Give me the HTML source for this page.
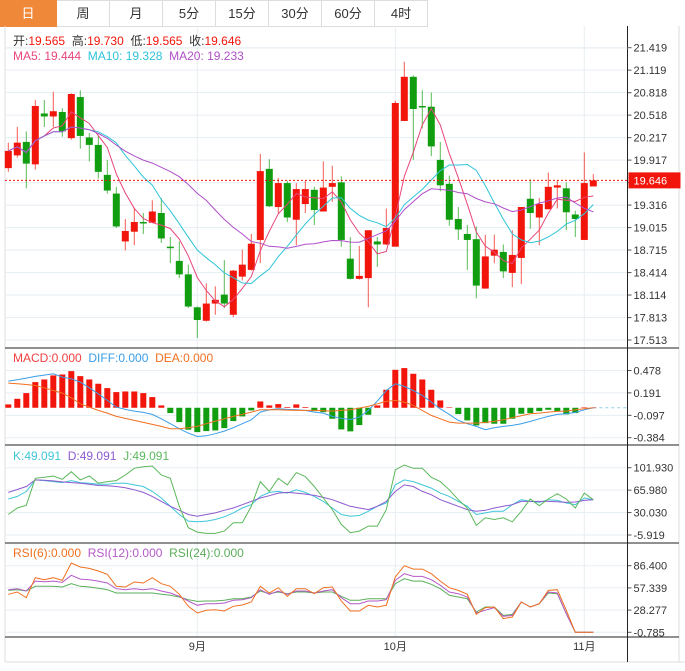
<!DOCTYPE html>
<html><head><meta charset="utf-8"><style>
body{margin:0;background:#fff;width:685px;height:671px;overflow:hidden;font-family:"Liberation Sans","Noto Sans CJK SC",sans-serif}
#tabs{position:absolute;left:0;top:0;height:26px;display:flex}
.tab{width:52px;height:25px;border:1px solid #ddd;border-left:none;font-size:13px;line-height:25px;text-align:center;color:#333;box-sizing:content-box}
.tab.on{background:#f0883a;color:#fff;border-color:#f0883a;width:56px}
svg{position:absolute;left:0;top:0}
</style></head><body>
<div id="tabs">
<div class="tab on">日</div>
<div class="tab">周</div>
<div class="tab">月</div>
<div class="tab">5分</div>
<div class="tab">15分</div>
<div class="tab">30分</div>
<div class="tab">60分</div>
<div class="tab">4时</div>
</div>
<svg id="c" width="685" height="671"></svg>
<script>
const opens=[19.81,19.98,20.16,19.86,20.54,20.50,20.56,20.21,20.76,20.22,20.12,19.72,19.47,18.83,18.96,19.09,19.08,19.21,18.76,18.57,18.39,17.95,17.77,18.00,18.12,17.85,18.36,18.45,18.85,19.80,19.29,19.61,19.12,19.33,19.52,19.23,19.56,19.62,18.60,18.33,18.34,18.83,18.79,18.76,20.44,21.03,20.64,20.63,19.92,19.60,19.13,18.93,18.86,18.20,18.64,18.69,18.41,18.61,19.40,19.15,19.26,19.55,19.54,19.19,18.85,19.565];
const highs=[20.15,20.36,20.30,20.72,20.72,20.83,20.61,20.81,20.85,20.28,20.24,19.92,19.56,19.13,19.28,19.21,19.38,19.41,18.89,18.83,18.52,17.96,18.27,18.23,18.58,18.45,18.72,18.93,20.00,19.93,19.68,19.64,19.61,19.64,19.56,19.90,19.84,19.70,18.89,18.77,18.98,18.89,19.27,20.71,21.23,21.05,20.85,20.82,20.16,19.71,19.29,19.05,19.03,18.92,18.92,18.79,18.98,19.29,19.66,19.41,19.75,19.65,19.62,19.24,20.02,19.73];
const lows=[19.76,19.95,19.54,19.79,20.36,20.36,20.23,20.19,20.07,19.90,19.67,19.47,19.01,18.71,18.78,18.93,19.08,18.81,18.54,18.34,17.94,17.54,17.76,17.85,17.94,17.82,18.31,18.44,18.54,19.29,19.21,19.09,18.78,19.21,19.05,19.23,19.36,18.76,18.32,18.32,17.95,18.49,18.78,18.76,20.44,19.92,20.34,19.97,19.50,19.04,18.85,18.45,18.07,18.20,18.54,18.34,18.22,18.26,19.00,18.78,19.26,19.27,18.98,18.89,18.85,19.565];
const closes=[20.04,20.15,19.87,20.64,20.50,20.57,20.30,20.80,20.24,20.12,19.76,19.51,19.03,18.97,19.09,19.08,19.23,18.87,18.74,18.39,17.96,17.78,18.00,18.05,18.00,18.44,18.52,18.80,19.77,19.30,19.61,19.15,19.53,19.53,19.25,19.55,19.61,18.85,18.33,18.37,18.98,18.79,19.01,20.68,21.03,20.60,20.62,20.10,19.58,19.12,18.99,18.85,18.24,18.63,18.72,18.43,18.65,19.29,19.21,19.33,19.56,19.58,19.22,19.13,19.61,19.646];
const macdHist=[0.043,0.115,0.188,0.329,0.363,0.415,0.427,0.470,0.406,0.363,0.308,0.252,0.201,0.209,0.209,0.188,0.137,0.030,-0.068,-0.184,-0.282,-0.312,-0.299,-0.291,-0.261,-0.171,-0.111,-0.034,0.081,0.030,0.047,0.009,0.043,0.009,-0.043,-0.056,-0.141,-0.278,-0.303,-0.222,-0.090,0.030,0.231,0.487,0.509,0.436,0.363,0.231,0.094,0.004,-0.081,-0.162,-0.226,-0.197,-0.205,-0.205,-0.141,-0.077,-0.068,-0.043,-0.026,-0.047,-0.085,-0.068,0.004,0.002];
const diffVals=[0.342,0.359,0.380,0.402,0.419,0.436,0.393,0.372,0.329,0.256,0.179,0.094,0.009,-0.021,-0.043,-0.060,-0.085,-0.141,-0.205,-0.269,-0.325,-0.368,-0.359,-0.333,-0.299,-0.256,-0.205,-0.154,-0.056,-0.026,-0.013,-0.021,-0.026,-0.034,-0.056,-0.068,-0.111,-0.137,-0.150,-0.120,-0.034,0.085,0.222,0.308,0.274,0.222,0.158,0.073,-0.013,-0.085,-0.162,-0.205,-0.239,-0.282,-0.256,-0.239,-0.226,-0.205,-0.175,-0.141,-0.111,-0.085,-0.077,-0.060,-0.026,0];
const deaVals=[0.316,0.308,0.299,0.286,0.256,0.222,0.188,0.128,0.051,0.009,-0.034,-0.068,-0.111,-0.137,-0.162,-0.188,-0.214,-0.239,-0.269,-0.269,-0.256,-0.239,-0.205,-0.171,-0.141,-0.111,-0.085,-0.056,-0.026,-0.026,-0.026,-0.030,-0.034,-0.034,-0.034,-0.038,-0.043,-0.034,-0.026,-0.004,0.017,0.051,0.081,0.094,0.073,0.030,-0.034,-0.098,-0.141,-0.184,-0.197,-0.197,-0.197,-0.188,-0.175,-0.154,-0.128,-0.103,-0.077,-0.068,-0.056,-0.047,-0.043,-0.026,-0.013,0];
const kVals=[51.7,55.9,63.9,82.4,81.3,79.7,78.1,81.3,78.1,77.1,75.5,75.5,77.1,77.1,74.4,71.8,63.9,53.3,40.1,26.9,16.3,15.2,16.3,18.9,23.2,29.5,37.4,42.7,55.9,62.3,63.9,61.2,66.5,62.3,55.9,48.0,37.4,26.9,24.2,25.3,32.1,40.1,45.4,74.4,82.4,79.7,74.4,69.2,61.2,55.9,48.0,40.1,26.9,29.5,32.1,32.1,42.7,50.6,48.0,46.4,50.6,49.6,45.4,42.7,53.3,50.6];
const dVals=[62.3,67.0,71.8,82.4,81.8,80.8,79.2,78.1,77.1,75.5,73.4,72.9,71.8,69.7,66.5,62.3,55.9,48.0,40.1,33.7,26.9,24.2,26.9,29.5,33.7,37.4,42.7,48.0,53.3,57.0,61.2,62.3,61.2,59.6,57.5,54.3,50.6,45.4,40.1,37.4,34.8,40.1,48.0,63.9,74.4,71.8,63.9,58.6,50.6,45.4,40.1,34.8,32.1,33.7,37.4,40.1,42.7,48.0,48.0,48.0,48.0,47.5,46.4,47.0,49.6,50.6];
const jVals=[26.9,37.4,41.6,85.0,86.6,88.7,83.4,95.6,82.4,88.7,77.1,79.7,81.3,90.3,100.9,103.5,104.6,90.3,85.0,40.1,5.7,-1.2,-3.3,-3.3,0.4,13.7,13.7,40.1,79.7,63.9,85.0,74.4,94.0,87.7,71.8,53.3,34.8,11.0,-2.2,0.4,8.4,8.4,34.8,98.2,106.2,100.9,100.9,86.6,79.7,66.5,50.6,37.4,9.4,21.6,18.9,21.6,15.2,32.1,51.7,41.1,51.7,60.2,51.7,37.4,61.2,50.6];
const rsi6=[48.9,52.0,44.5,70.7,68.1,70.7,67.2,89.9,84.7,82.9,79.4,75.1,59.4,58.5,65.0,63.7,70.7,62.9,59.4,48.9,33.2,24.5,28.0,28.8,27.1,33.2,35.0,38.9,59.4,50.6,57.6,46.3,56.3,56.3,49.8,57.6,58.5,40.2,27.1,27.1,34.5,32.3,34.5,71.6,86.4,82.0,82.0,75.9,66.3,57.6,54.1,48.9,22.7,31.5,32.3,17.1,19.3,38.9,32.3,36.7,54.1,55.0,28.0,-0.8,-0.8,-0.8];
const rsi12=[55.0,56.3,53.3,66.3,65.5,66.3,64.6,73.8,68.9,68.1,66.3,63.7,56.3,55.0,56.3,55.0,56.3,53.3,50.6,46.3,40.2,34.5,36.7,36.7,37.6,41.1,41.9,44.5,55.0,48.9,53.3,48.9,53.3,53.3,50.6,53.3,55.0,44.5,36.7,36.7,40.2,40.2,41.9,67.2,75.9,72.4,72.4,68.1,60.7,52.0,49.8,45.4,24.5,28.2,31.5,20.1,21.4,38.9,32.3,36.7,52.0,50.6,23.6,-0.8,-0.8,-0.8];
const rsi24=[54.1,55.0,53.3,59.4,59.4,59.4,58.5,62.9,59.4,58.5,56.8,55.0,50.6,50.6,50.6,50.6,50.6,48.9,47.6,45.4,41.9,39.7,40.2,40.2,41.1,43.2,43.2,45.4,53.3,49.8,52.0,49.8,52.0,52.0,50.6,52.0,52.0,46.3,41.1,41.1,43.2,43.2,43.2,62.9,69.4,66.3,66.3,62.0,56.3,47.6,45.4,43.2,25.8,32.3,32.3,21.4,22.7,38.9,32.3,36.7,50.6,49.8,23.6,-0.8,-0.8,-0.8];
const priceTicks=[21.419,21.119,20.818,20.518,20.217,19.917,19.616,19.316,19.015,18.715,18.414,18.114,17.813,17.513];
const macdTicks=[0.478,0.191,-0.097,-0.384];
const kdjTicks=[101.930,65.980,30.030,-5.919];
const rsiTicks=[86.400,57.339,28.277,-0.785];
const monthLabels=[[21,'9月'],[43,'10月'],[64,'11月']];

const NS='http://www.w3.org/2000/svg',svg=document.getElementById('c');
function mk(t,a,p){const e=document.createElementNS(NS,t);for(const k in a)e.setAttribute(k,a[k]);(p||svg).appendChild(e);return e;}
const RED='#f2150b',GRN='#109e10';
const X0=8.3,DX=9,AX=627.5;
const xi=i=>X0+DX*i;
function lin(v0,y0,v1,y1){return v=>y0+(v-v0)*(y1-y0)/(v1-v0);}
const yP=lin(21.419,47.7,17.513,340);
const yM=lin(0.478,370.5,-0.384,437.7);
const yK=lin(101.93,467.7,-5.919,535);
const yR=lin(86.4,565.7,-0.785,632.3);

mk('line',{x1:5,y1:26,x2:5,y2:662,stroke:'#ddd'});
mk('line',{x1:5,y1:662,x2:685,y2:662,stroke:'#ddd'});
mk('line',{x1:679,y1:26,x2:679,y2:662,stroke:'#ddd'});
function grid(ticks,f,name){ticks.forEach(t=>{const y=f(t);
 const g=mk('line',{x1:5,y1:y,x2:AX,y2:y,stroke:'#e6eef3'});
 mk('line',{x1:AX,y1:y,x2:AX+4,y2:y,stroke:'#555'});
 const tx=mk('text',{x:AX+6,y:y+4,'font-size':11,fill:'#333'});tx.textContent=t.toFixed(3);});}
grid(priceTicks,yP,'price');grid(macdTicks,yM,'macd');grid(kdjTicks,yK,'kdj');grid(rsiTicks,yR,'rsi');
monthLabels.forEach(([i,l])=>{const x=xi(i);mk('line',{x1:x,y1:26,x2:x,y2:637,stroke:'#e8eef2'});
 const t=mk('text',{x:x,y:650,'font-size':11,fill:'#333','text-anchor':'middle'});t.textContent=l;});
[348,445,543,637].forEach(y=>mk('line',{x1:5,y1:y,x2:679,y2:y,stroke:'#222'}));
mk('line',{x1:AX,y1:26,x2:AX,y2:662,stroke:'#222'});

const N=closes.length;
for(let i=0;i<N;i++){const up=closes[i]>=opens[i],col=up?RED:GRN,x=xi(i);
 const g=mk('g',{});
 mk('line',{x1:x,y1:yP(highs[i]),x2:x,y2:yP(lows[i]),stroke:col,'stroke-opacity':0.7},g);
 const t=yP(Math.max(opens[i],closes[i])),b=yP(Math.min(opens[i],closes[i]));
 mk('rect',{x:x-3.5,y:t,width:7,height:Math.max(1.5,b-t),fill:col},g);}
function ma(n){return closes.map((c,i)=>{const s=closes.slice(Math.max(0,i-n+1),i+1);return s.reduce((a,b)=>a+b,0)/s.length;});}
function line(vals,f,col,name){const pts=vals.map((v,i)=>xi(i).toFixed(1)+','+f(v).toFixed(1));
 const p=mk('polyline',{points:pts.join(' '),fill:'none',stroke:col,'stroke-width':1});}
line(ma(5),yP,'#e8457b','ma5-line');line(ma(10),yP,'#2ec4d8','ma10-line');line(ma(20),yP,'#b04fc9','ma20-line');
const lp=closes[N-1];
mk('line',{x1:5,y1:yP(lp),x2:AX,y2:yP(lp),stroke:RED,'stroke-dasharray':'2,2'});
const pb=mk('rect',{x:AX+1,y:yP(lp)-8,width:52,height:16,fill:RED});
const pt=mk('text',{x:AX+6,y:yP(lp)+4,'font-size':11,fill:'#fff'});pt.textContent=lp.toFixed(3);

mk('line',{x1:xi(N-1),y1:yM(0),x2:AX,y2:yM(0),stroke:'#8cd0e8','stroke-dasharray':'3,3'});
macdHist.forEach((h,i)=>{const y0=yM(0),y1=yM(h);const r=mk('rect',{x:xi(i)-3,y:Math.min(y0,y1),width:6,height:Math.max(0.5,Math.abs(y1-y0)),fill:h>=0?RED:GRN});});
line(diffVals,yM,'#3a9ee8','diff-line');line(deaVals,yM,'#f07020','dea-line');
line(kVals,yK,'#3fc6d8','k-line');line(dVals,yK,'#8e5ad0','d-line');line(jVals,yK,'#5cb85c','j-line');
line(rsi24,yR,'#5aae5a','rsi24-line');line(rsi12,yR,'#b45ac8','rsi12-line');line(rsi6,yR,'#f07020','rsi6-line');

function leg(x,y,parts,name){const t=mk('text',{x:x,y:y,'font-size':12});
 parts.forEach(([s,c])=>{const sp=mk('tspan',{fill:c},t);sp.textContent=s;});}
leg(13,45,[['开:','#333'],['19.565  ',RED],['高:','#333'],['19.730  ',RED],['低:','#333'],['19.565  ',RED],['收:','#333'],['19.646',RED]],'ohlc-legend');
mk('line',{x1:5,y1:48,x2:AX,y2:48,stroke:'#e6eef3'});
leg(13,60,[['MA5: 19.444  ','#e8457b'],['MA10: 19.328  ','#2ec4d8'],['MA20: 19.233','#b04fc9']],'ma-legend');
leg(13,362,[['MACD:0.000  ','#f04040'],['DIFF:0.000  ','#3a9ee8'],['DEA:0.000','#f07020']],'macd-legend');
leg(13,460,[['K:49.091  ','#3fc6d8'],['D:49.091  ','#8e5ad0'],['J:49.091','#5cb85c']],'kdj-legend');
leg(13,557,[['RSI(6):0.000  ','#f07020'],['RSI(12):0.000  ','#b45ac8'],['RSI(24):0.000','#5aae5a']],'rsi-legend');
document.querySelectorAll('text').forEach(e=>e.style.whiteSpace='pre');
</script>
</body></html>
